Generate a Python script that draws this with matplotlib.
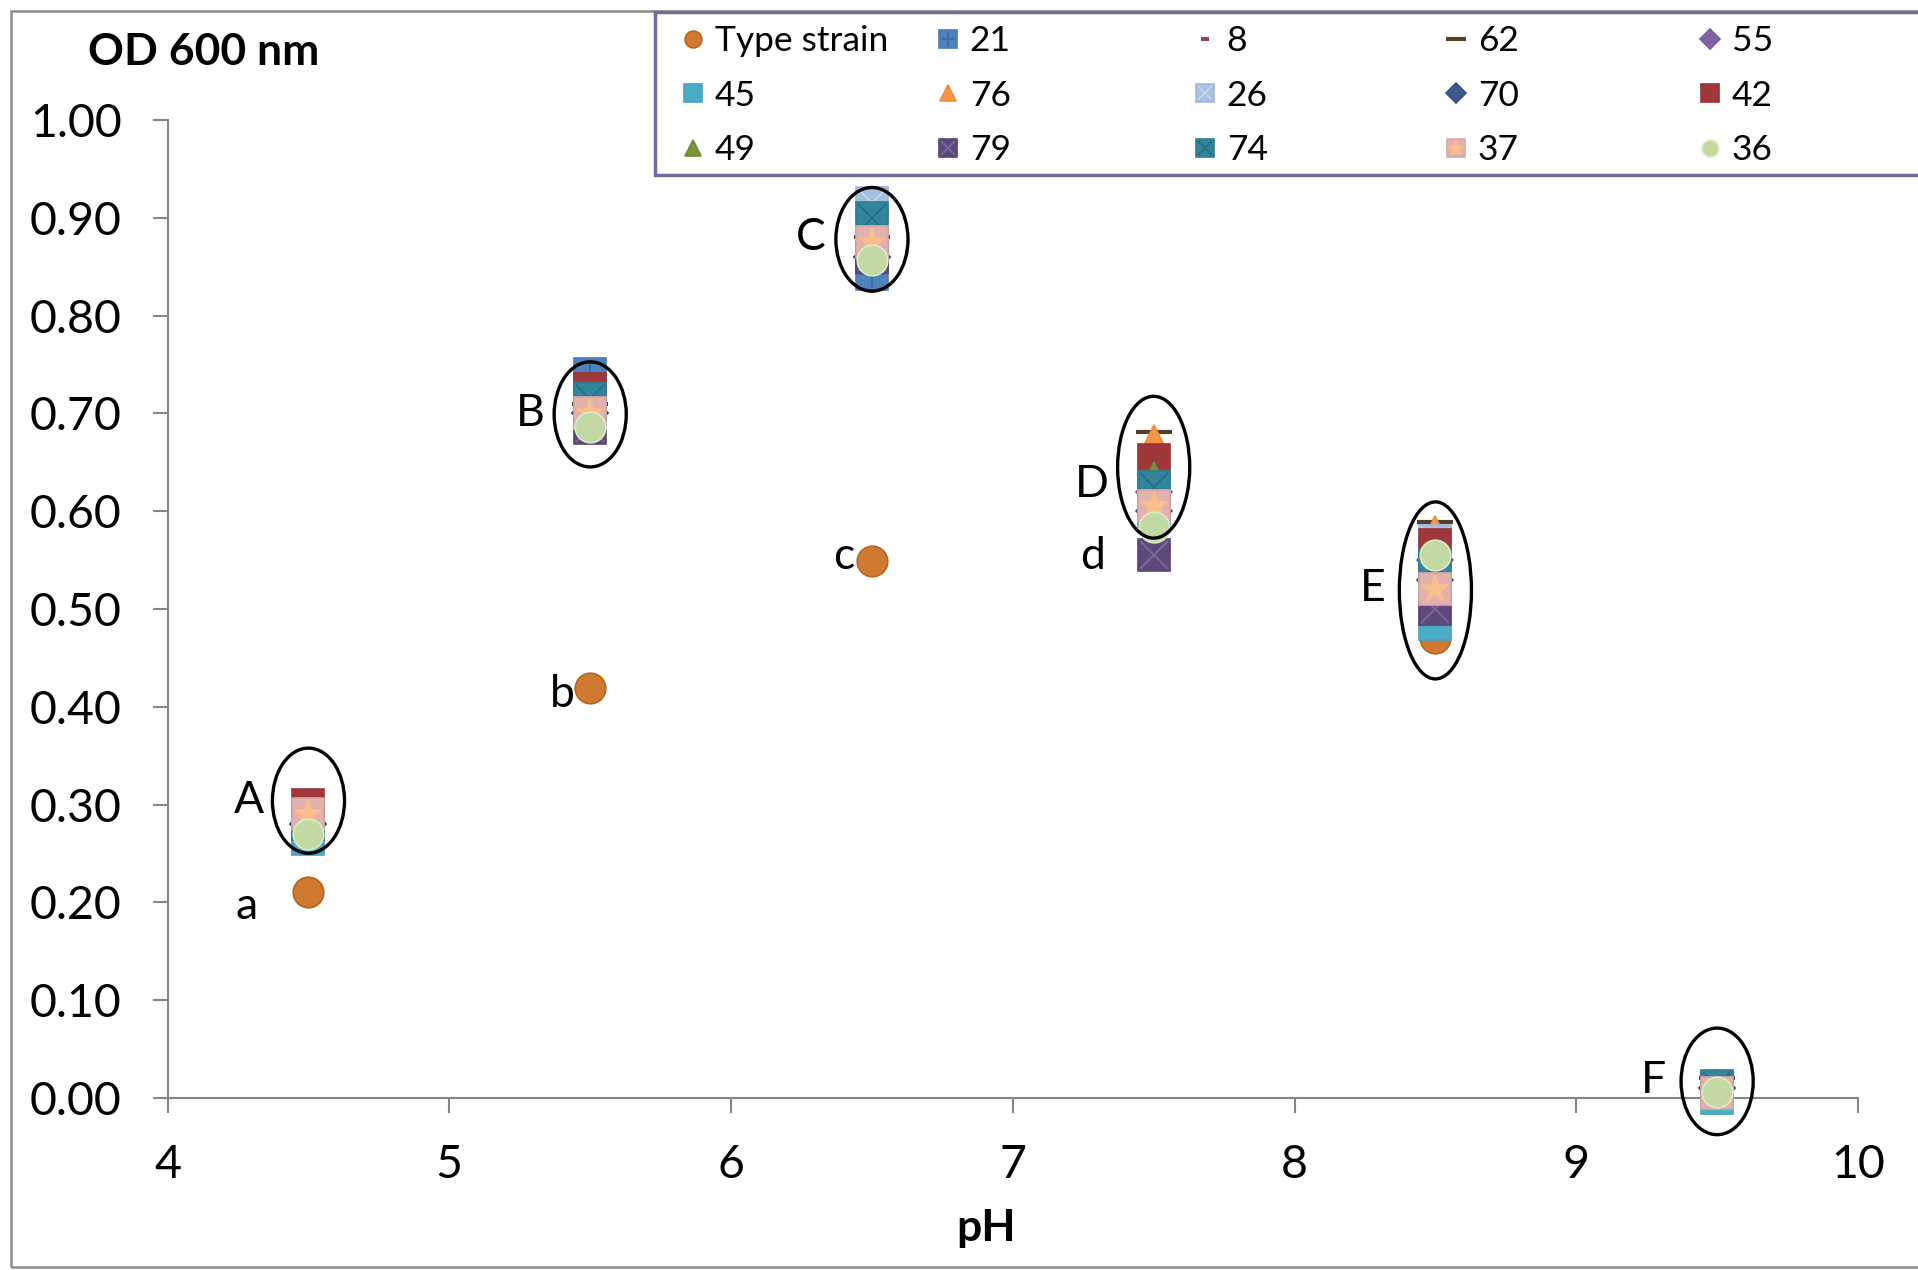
import matplotlib
matplotlib.use("Agg")
import matplotlib.pyplot as plt
from matplotlib.patches import Ellipse, Rectangle

plt.rcParams["font.family"] = ["Lato", "DejaVu Sans"]

# pH values tested
ph = [4.5, 5.5, 6.5, 7.5, 8.5, 9.5]

# OD 600 nm readings per strain
od_type_strain = [0.211, 0.419, 0.549, 0.56, 0.47, 0.00]
od_21 = [0.29, 0.740, 0.843, 0.620, 0.530, 0.010]
od_8 = [0.29, 0.720, 0.870, 0.640, 0.540, 0.010]
od_62 = [0.28, 0.710, 0.880, 0.681, 0.589, 0.020]
od_55 = [0.28, 0.700, 0.860, 0.620, 0.550, 0.010]
od_45 = [0.265, 0.700, 0.860, 0.600, 0.485, 0.000]
od_76 = [0.28, 0.710, 0.870, 0.673, 0.580, 0.010]
od_26 = [0.29, 0.720, 0.915, 0.610, 0.570, 0.010]
od_70 = [0.28, 0.700, 0.860, 0.600, 0.530, 0.010]
od_42 = [0.30, 0.725, 0.860, 0.652, 0.565, 0.010]
od_49 = [0.28, 0.700, 0.860, 0.635, 0.540, 0.010]
od_79 = [0.28, 0.685, 0.860, 0.555, 0.500, 0.010]
od_74 = [0.28, 0.715, 0.900, 0.625, 0.545, 0.012]
od_37 = [0.29, 0.700, 0.875, 0.605, 0.520, 0.005]
od_36 = [0.27, 0.686, 0.857, 0.584, 0.555, 0.006]

series_names = ["Type strain", "21", "8", "62", "55", "45", "76", "26",
                "70", "42", "49", "79", "74", "37", "36"]
series_values = [od_type_strain, od_21, od_8, od_62, od_55, od_45, od_76, od_26,
                 od_70, od_42, od_49, od_79, od_74, od_37, od_36]

# marker, face, edge, size, overlay marker, overlay colour
styles = {
    "Type strain": ("o", "#CE7A32", "#B8651F", 22, None, None),
    "21": ("s", "#4F81BD", "#4A7AB5", 23, "+", "#3E6AA0"),
    "8": ("_", "#9C3F5E", "#9C3F5E", 10, None, None),
    "62": ("_", "#4E4328", "#4E4328", 26, None, None),
    "55": ("D", "#8064A2", "#7A5E9C", 18, None, None),
    "45": ("s", "#4BACC6", "#45A4BE", 23, None, None),
    "76": ("^", "#F79646", "#F08A38", 22, None, None),
    "26": ("s", "#A7C0E0", "#9DB8DB", 23, "x", "#C6D6EC"),
    "70": ("D", "#3A5A8C", "#345384", 18, None, None),
    "42": ("s", "#A0373B", "#983336", 23, None, None),
    "49": ("^", "#77933C", "#6F8A36", 22, None, None),
    "79": ("s", "#5F497A", "#5A4574", 23, "x", "#7C67A0"),
    "74": ("s", "#31859C", "#2E7E94", 23, "x", "#2A6C86"),
    "37": ("s", "#E2B1AE", "#DDA8A4", 23, "*", "#F9BE8C"),
    "36": ("o", "#C3D9A4", "#DDEBC8", 22, None, None),
}

fig = plt.figure(figsize=(19.18, 12.70), dpi=100)
W, H = 1918, 1270
ax = fig.add_axes([167.6 / W, 1 - 1098 / H, (1858 - 167.6) / W, (1098 - 120) / H])

handles = {}
for name, vals in zip(series_names, series_values):
    m, fc, ec, ms, om, oc = styles[name]
    line, = ax.plot(ph, vals, linestyle="none", marker=m, markersize=ms,
                    markerfacecolor=fc, markeredgecolor=ec,
                    markeredgewidth=3 if m == "_" else 1.2, clip_on=False, zorder=3)
    h = line
    if om is not None:
        over, = ax.plot(ph, vals, linestyle="none", marker=om, markersize=ms * 0.85,
                        markerfacecolor=oc, markeredgecolor=oc, markeredgewidth=1.3,
                        clip_on=False, zorder=3)
        h = (line, over)
    handles[name] = h

# Groups of strains circled per pH
ellipse_y = [0.304, 0.699, 0.878, 0.645, 0.519, 0.017]
ellipse_h = [0.1075, 0.1075, 0.106, 0.145, 0.181, 0.109]
for x, y, hgt in zip(ph, ellipse_y, ellipse_h):
    ax.add_patch(Ellipse((x, y), 0.256, hgt, fill=False, edgecolor="black",
                         linewidth=2.4, clip_on=False, zorder=5))

group_labels = ["A", "B", "C", "D", "E", "F"]
group_label_xy = [(4.343, 0.304), (5.337, 0.700), (6.336, 0.880),
                  (7.339, 0.6275), (8.325, 0.521), (9.319, 0.0175)]
for t, (x, y) in zip(group_labels, group_label_xy):
    ax.text(x, y, t, ha="right", va="center", fontsize=32, zorder=6)

type_labels = ["a", "b", "c", "d"]
type_label_xy = [(4.321, 0.196), (5.446, 0.4125), (6.436, 0.554), (7.326, 0.554)]
for t, (x, y) in zip(type_labels, type_label_xy):
    ax.text(x, y, t, ha="right", va="center", fontsize=32, zorder=6)

ax.set_xlim(4, 10)
ax.set_ylim(0, 1.0)
ax.set_xticks(range(4, 11))
ax.set_yticks([i / 10 for i in range(11)])
ax.set_yticklabels([f"{i / 10:.2f}" for i in range(11)])
for s in ("top", "right"):
    ax.spines[s].set_visible(False)
for s in ("left", "bottom"):
    ax.spines[s].set_color("#868686")
    ax.spines[s].set_linewidth(1.5)
ax.tick_params(axis="y", direction="out", length=11, width=1.5, color="#868686",
               labelsize=33.5, pad=22)
ax.tick_params(axis="x", direction="out", length=11, width=1.5, color="#868686",
               labelsize=33.5, pad=22)
ax.patch.set_alpha(0)

fig.text(88 / W, 1 - 52 / H, "OD 600 nm", fontsize=32, fontweight="bold",
         ha="left", va="center")
fig.text(986 / W, 1 - 1228 / H, "pH", fontsize=32, fontweight="bold",
         ha="center", va="center")

# outer chart frame and legend frame
fig.add_artist(Rectangle((11 / W, 1 - 1267 / H), 2000 / W, 1256 / H,
                         transform=fig.transFigure, fill=False,
                         edgecolor="#8C8C8C", linewidth=1.8))
fig.add_artist(Rectangle((655 / W, 1 - 175 / H), 1400 / W, 163 / H,
                         transform=fig.transFigure, facecolor="white",
                         edgecolor="#6E6E9E", linewidth=2.5, zorder=2))

legend_rows = [["Type strain", "21", "8", "62", "55"],
               ["45", "76", "26", "70", "42"],
               ["49", "79", "74", "37", "36"]]
col_x = [681, 936, 1193, 1444, 1698]
for c, x in enumerate(col_x):
    names = [row[c] for row in legend_rows]
    leg = fig.legend([handles[n] for n in names], names, loc="upper left",
                     bbox_to_anchor=(x / W, 1 - 25 / H), frameon=False,
                     fontsize=25.5, markerscale=0.55, handlelength=0.7,
                     handletextpad=0.25, labelspacing=0.64, borderpad=0,
                     borderaxespad=0)
    leg.set_zorder(4)

fig.savefig("out.png", dpi=100, facecolor="white")
